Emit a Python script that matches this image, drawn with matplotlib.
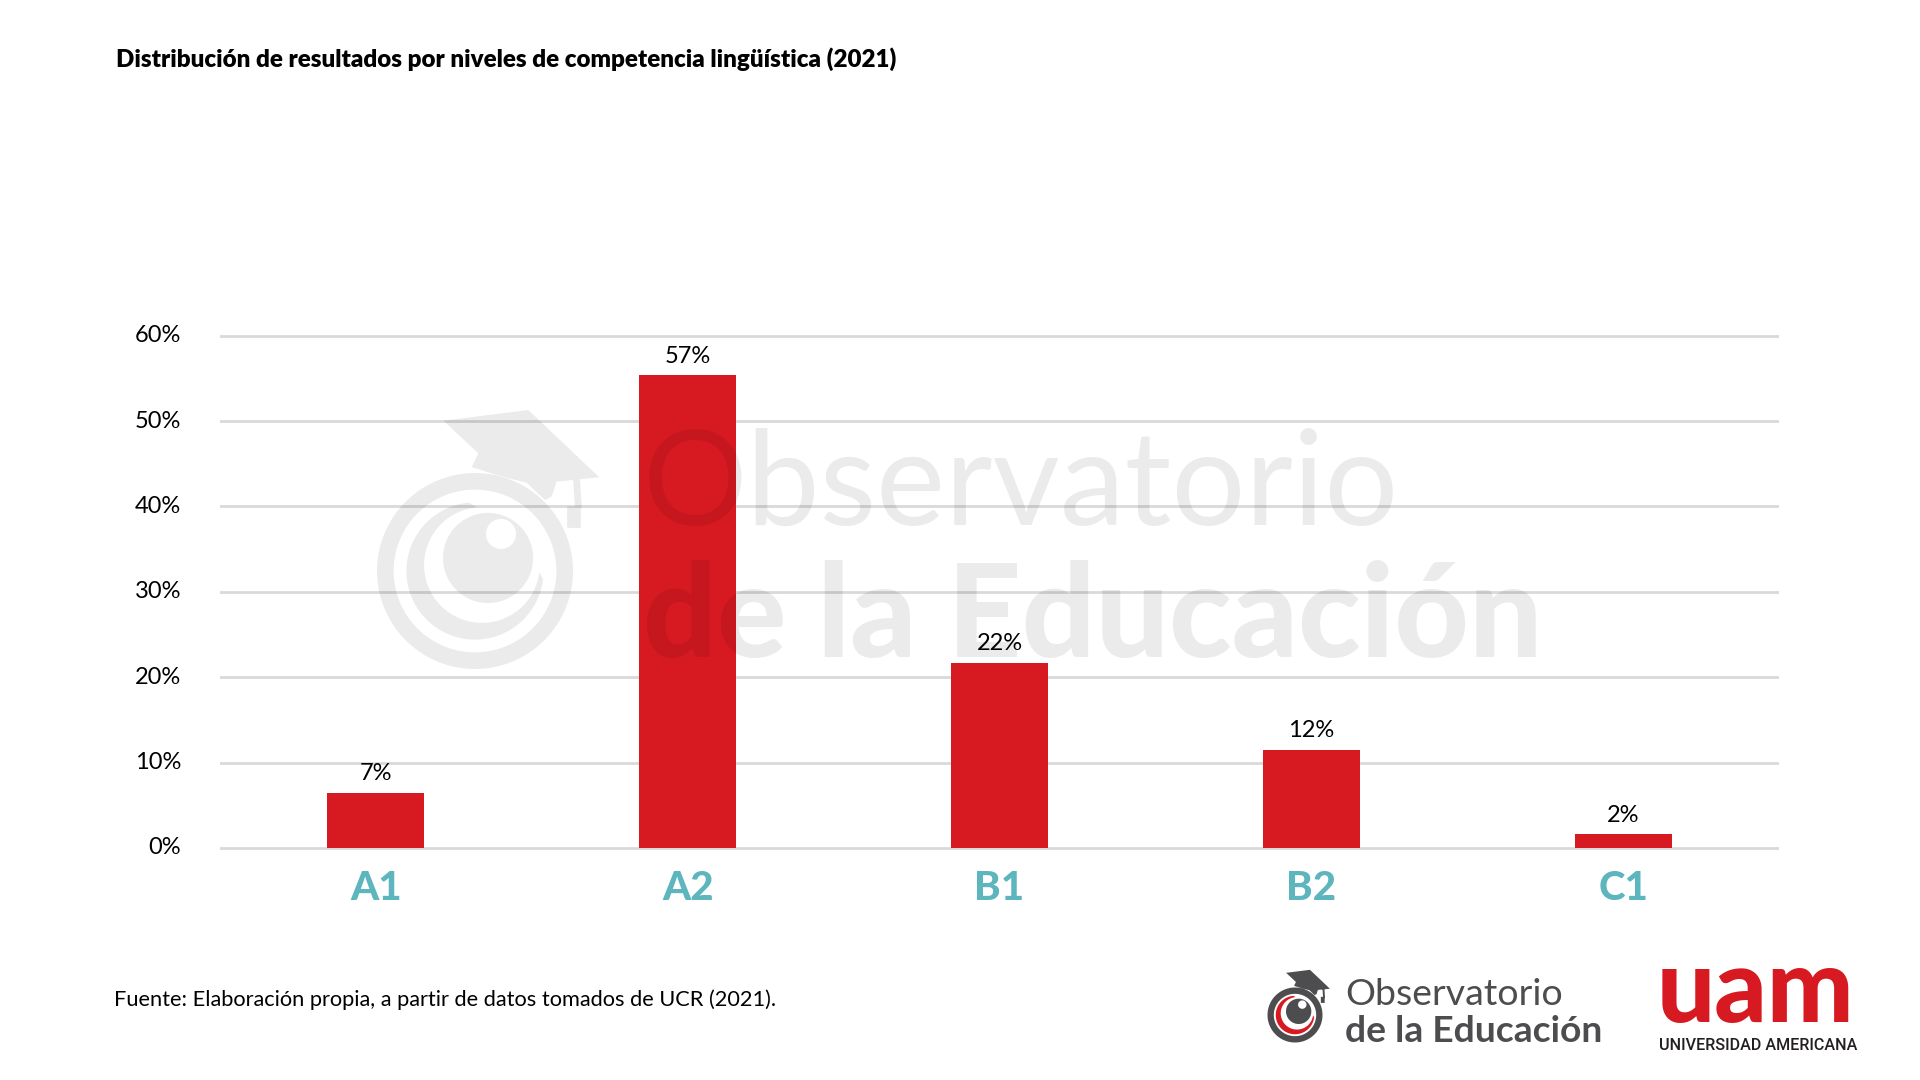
import numpy as np
import matplotlib
matplotlib.use("Agg")
import matplotlib.pyplot as plt
from matplotlib import font_manager
from matplotlib.path import Path
from matplotlib.patches import PathPatch

# ---------------- data ----------------
categories = ["A1", "A2", "B1", "B2", "C1"]
values = [6.5, 55.4, 21.7, 11.5, 1.6]
value_labels = ["7%", "57%", "22%", "12%", "2%"]
yticks = [0, 10, 20, 30, 40, 50, 60]
ytick_labels = ["0%", "10%", "20%", "30%", "40%", "50%", "60%"]
title = "Distribución de resultados por niveles de competencia lingüística (2021)"
source = "Fuente: Elaboración propia, a partir de datos tomados de UCR (2021)."

# ---------------- style ----------------
RED = "#D71A21"
TEAL = "#5DB6BD"
GRID = "#D9D9D9"
DARK = "#4D4D4F"
W, H = 1920, 1080

plt.rcParams["font.family"] = ["Lato", "DejaVu Sans"]

fig = plt.figure(figsize=(19.2, 10.8), dpi=100)
fig.patch.set_facecolor("white")
renderer = fig.canvas.get_renderer()

# main axes: 0% at y=848px, 60% at y=335.7px
y0px, y60px = 848.0, 335.7
ppu = (y0px - y60px) / 60.0
ylo, yhi = -1.0, 61.0
bot_px = y0px + (0 - ylo) * ppu
top_px = y60px - (yhi - 60) * ppu
ax = fig.add_axes([220 / W, (H - bot_px) / H, (1779 - 220) / W, (bot_px - top_px) / H])
ax.set_xlim(-0.5, len(categories) - 0.5)
ax.set_ylim(ylo, yhi)
for s in ax.spines.values():
    s.set_visible(False)
for yv in yticks:
    ax.axhline(yv, color=GRID, lw=2, zorder=0)

x = np.arange(len(categories))
bars = ax.bar(x, values, width=0.311, color=RED, zorder=2)
ax.bar_label(bars, labels=value_labels, padding=6, fontsize=17, color="black")

ax.set_yticks(yticks)
ax.set_yticklabels(ytick_labels, fontsize=17, color="black", va="center")
ax.set_xticks(x)
ax.set_xticklabels(categories, fontsize=29, fontweight="black", color=TEAL, va="baseline")
ax.tick_params(length=0)
ax.tick_params(axis="y", pad=28)
ax.tick_params(axis="x", pad=31)

# ---------------- overlay (pixel coordinates, y down) ----------------
ov = fig.add_axes([0, 0, 1, 1])
ov.set_xlim(0, W)
ov.set_ylim(H, 0)
ov.axis("off")
ov.set_facecolor("none")
ov.set_zorder(5)


def fit_text(axx, x0, y0, s, width, **kw):
    t = axx.text(x0, y0, s, fontsize=50, ha="left", va="baseline", **kw)
    w = t.get_window_extent(renderer).width
    t.set_fontsize(50 * width / w)
    return t


fit_text(ov, 116, 67, title, 779, fontweight="heavy", color="black")
fit_text(ov, 114, 1006, source, 661, color="black")


def signed_area(p):
    return 0.5 * np.sum(p[:, 0] * np.roll(p[:, 1], -1) - np.roll(p[:, 0], -1) * p[:, 1])


def orient(p, positive=True):
    p = np.asarray(p, float)
    a = signed_area(p)
    if (a > 0) != positive:
        p = p[::-1]
    return p


def circ(cx, cy, r, n=160):
    t = np.linspace(0, 2 * np.pi, n, endpoint=False)
    return np.column_stack([cx + r * np.cos(t), cy + r * np.sin(t)])


def compound(polys):
    verts, codes = [], []
    for p in polys:
        verts.extend(p.tolist())
        verts.append(p[0].tolist())
        codes.extend([Path.MOVETO] + [Path.LINETO] * (len(p) - 1) + [Path.CLOSEPOLY])
    return Path(np.array(verts), codes)


def icon_parts(cx, cy, R, rw):
    def tr(p):
        p = np.asarray(p, float)
        return np.column_stack([cx + p[:, 0] * R, cy + p[:, 1] * R])

    ring = [orient(tr(circ(0, 0, 1.0))), orient(tr(circ(0, 0, 1.0 - rw)), False)]
    t_out = np.radians(np.linspace(95, 353, 120))
    outer = np.column_stack([0.70 * np.cos(t_out), -0.70 * np.sin(t_out)])
    t_in = t_out[::-1]
    inner = np.column_stack([0.071 + 0.59 * np.cos(t_in), -0.061 - 0.59 * np.sin(t_in)])
    cres = [orient(tr(np.vstack([outer, inner])))]
    eye = [orient(tr(circ(0.133, -0.133, 0.46))), orient(tr(circ(0.265, -0.378, 0.153)), False)]
    cap_poly = [(-0.323, -1.534), (0.544, -1.643), (1.269, -0.956), (0.833, -0.912),
                (0.782, -0.759), (0.714, -0.724), (0.527, -0.90), (0.255, -0.97),
                (-0.034, -1.06), (0.034, -1.201)]
    cord = [(1.00, -0.95), (1.07, -0.95), (1.09, -0.64), (1.02, -0.64)]
    tassel = [(0.94, -0.66), (1.08, -0.66), (1.08, -0.44), (0.94, -0.44)]
    cap = [orient(tr(cap_poly)), orient(tr(cord)), orient(tr(tassel))]
    return ring, cres, eye, cap


# watermark (semi-transparent, over everything)
WM = dict(color="black", alpha=0.08, lw=0, zorder=10)
ring, cres, eye, cap = icon_parts(475, 571, 98, 0.17)
ov.add_patch(PathPatch(compound(ring + cres + eye + cap), **WM))
fit_text(ov, 643, 525, "Observatorio", 756, color="black", alpha=0.08, zorder=10)
fit_text(ov, 643, 657, "de la Educación", 901, color="black", alpha=0.08,
         fontweight="black", zorder=10)

# bottom logo: Observatorio de la Educación
ring, cres, eye, cap = icon_parts(1295, 1015, 27.5, 0.23)
ov.add_patch(PathPatch(compound(ring + cap), color=DARK, lw=0))
ov.add_patch(PathPatch(compound(cres), color=RED, lw=0))
ov.add_patch(PathPatch(compound(eye), color=DARK, lw=0))
fit_text(ov, 1345, 1005, "Observatorio", 217, color=DARK)
fit_text(ov, 1345, 1042, "de la Educación", 258, color=DARK, fontweight="bold")

# UAM logo
fit_text(ov, 1657, 1022, "uam", 198, color=RED, fontweight="black")
try:
    font_manager.findfont("Liberation Sans Narrow", fallback_to_default=False)
    uni_family = ["Liberation Sans Narrow", "DejaVu Sans"]
    uni_weight = "bold"
except Exception:
    uni_family = ["Roboto", "DejaVu Sans"]
    uni_weight = "medium"
fit_text(ov, 1659, 1050, "UNIVERSIDAD AMERICANA", 198, color="#231F20",
         family=uni_family, fontweight=uni_weight)

fig.savefig("out.png", dpi=100, facecolor="white")
